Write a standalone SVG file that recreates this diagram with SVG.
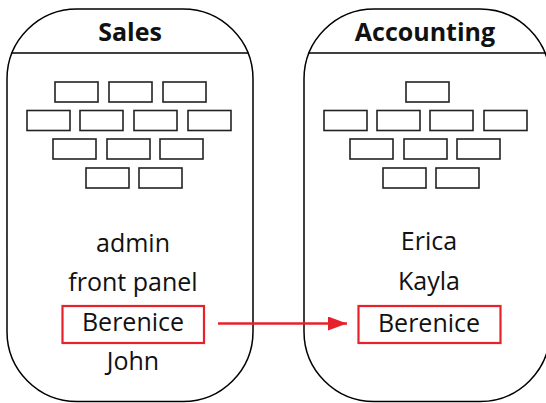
<svg xmlns="http://www.w3.org/2000/svg" width="546" height="403" viewBox="0 0 546 403">
<defs>
<style>
.cont{fill:#fff;stroke:#000;stroke-width:1.5}
.div{stroke:#000;stroke-width:1.5}
.brick{fill:#fff;stroke:#222;stroke-width:1.6}
.title{font-family:"Open Sans","Noto Sans",sans-serif;font-weight:bold;font-size:25px;text-anchor:middle;fill:#111}
.lbl{font-family:"Open Sans","Noto Sans",sans-serif;font-size:25px;text-anchor:middle;fill:#111}
.hl{fill:none;stroke:#e8202a;stroke-width:2.2}
</style>
<marker id="ah" viewBox="0 0 10 10" refX="10" refY="5" markerWidth="19" markerHeight="14" markerUnits="userSpaceOnUse" orient="auto" preserveAspectRatio="none">
<path d="M0,0 L10,5 L0,10 z" fill="#e8202a"/>
</marker>
</defs>
<rect width="546" height="403" fill="#fff"/>
<g id="sales">
<rect class="cont" x="7" y="9" width="246" height="392.5" rx="70" ry="70"/>
<line class="div" x1="11.5" y1="53" x2="248.5" y2="53"/>
<text class="title" x="130" y="41">Sales</text>
<rect class="brick" x="55" y="82" width="43" height="20"/>
<rect class="brick" x="109" y="82" width="43" height="20"/>
<rect class="brick" x="163" y="82" width="43" height="20"/>
<rect class="brick" x="27" y="110.5" width="43" height="20"/>
<rect class="brick" x="80" y="110.5" width="43" height="20"/>
<rect class="brick" x="134" y="110.5" width="43" height="20"/>
<rect class="brick" x="188" y="110.5" width="43" height="20"/>
<rect class="brick" x="53" y="139" width="43" height="20"/>
<rect class="brick" x="107" y="139" width="43" height="20"/>
<rect class="brick" x="160" y="139" width="43" height="20"/>
<rect class="brick" x="86" y="168" width="43" height="20"/>
<rect class="brick" x="139" y="168" width="43" height="20"/>
<text class="lbl" x="133" y="252">admin</text>
<text class="lbl" x="133" y="291">front panel</text>
<rect class="hl" x="62.5" y="306" width="141.5" height="37"/>
<text class="lbl" x="133" y="331">Berenice</text>
<text class="lbl" x="133" y="370">John</text>
</g>
<g id="accounting">
<rect class="cont" x="304" y="9" width="246" height="392.5" rx="70" ry="70"/>
<line class="div" x1="308.5" y1="53" x2="545.5" y2="53"/>
<text class="title" x="425" y="41">Accounting</text>
<rect class="brick" x="406" y="82" width="43" height="20"/>
<rect class="brick" x="324" y="110.5" width="43" height="20"/>
<rect class="brick" x="377" y="110.5" width="43" height="20"/>
<rect class="brick" x="430" y="110.5" width="43" height="20"/>
<rect class="brick" x="484" y="110.5" width="43" height="20"/>
<rect class="brick" x="350" y="139" width="43" height="20"/>
<rect class="brick" x="404" y="139" width="43" height="20"/>
<rect class="brick" x="457" y="139" width="43" height="20"/>
<rect class="brick" x="383" y="168" width="43" height="20"/>
<rect class="brick" x="436" y="168" width="43" height="20"/>
<text class="lbl" x="429" y="250">Erica</text>
<text class="lbl" x="429" y="290">Kayla</text>
<rect class="hl" x="358.5" y="306" width="142" height="37"/>
<text class="lbl" x="429" y="332">Berenice</text>
</g>
<g id="connectors">
<line x1="218" y1="323.5" x2="347" y2="323.5" stroke="#e8202a" stroke-width="2.5" marker-end="url(#ah)"/>
</g>
</svg>
